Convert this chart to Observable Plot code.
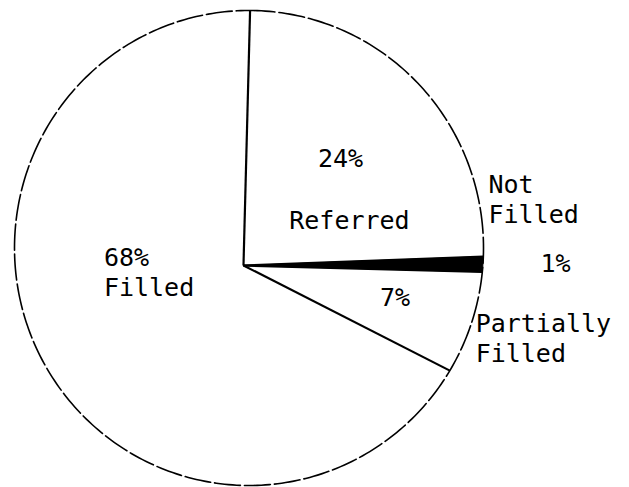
<!DOCTYPE html>
<html><head><meta charset="utf-8">
<script src="https://cdn.jsdelivr.net/npm/d3@7"></script>
<script src="https://cdn.jsdelivr.net/npm/@observablehq/plot@0.6"></script>
<style>html,body{margin:0;padding:0;background:#fff}</style>
</head><body><div id="chart"></div>
<script>
// Data
const categories = ["Referred", "Not Filled", "Partially Filled", "Filled"];
const percents = [24, 1, 7, 68];
const sliceFills = ["none", "black", "none", "none"];

// Geometry (layout)
const startDeg = 1.5;               // first radius, clockwise from north
const hub = [-0.0235, -0.0737];     // where the hand-drawn radii meet (unit-circle space)
const rad = d => d * Math.PI / 180;
function rimPoint(deg) {
  const dx = Math.sin(rad(deg)), dy = Math.cos(rad(deg));
  const b = hub[0] * dx + hub[1] * dy;
  const c = hub[0] ** 2 + hub[1] ** 2 - 1;
  const t = -b + Math.sqrt(b * b - c);
  return [hub[0] + t * dx, hub[1] + t * dy];
}
function anchor(deg, r) {
  return [hub[0] + r * Math.sin(rad(deg)), hub[1] + r * Math.cos(rad(deg))];
}
const total = d3.sum(percents);
let acc = startDeg;
const slices = categories.map((name, i) => {
  const a0 = acc, a1 = acc + percents[i] / total * 360;
  acc = a1;
  return {name, value: percents[i], fill: sliceFills[i], a0, a1, mid: (a0 + a1) / 2};
});

// outline circle
const circle = d3.range(0, 361, 1).map(a => ({x: Math.sin(rad(a)), y: Math.cos(rad(a))}));

// radii
const radii = slices.map(s => { const p = rimPoint(s.a0); return {x1: hub[0], y1: hub[1], x2: p[0], y2: p[1]}; });

// filled wedges
const wedges = [];
slices.filter(s => s.fill !== "none").forEach(s => {
  const p0 = rimPoint(s.a0), p1 = rimPoint(s.a1);
  const f0 = Math.atan2(p0[0], p0[1]), f1 = Math.atan2(p1[0], p1[1]);
  wedges.push({name: s.name, x: hub[0], y: hub[1]});
  const n = 12;
  for (let k = 0; k <= n; k++) {
    const f = f0 + (f1 - f0) * k / n;
    wedges.push({name: s.name, x: Math.sin(f), y: Math.cos(f)});
  }
  wedges.push({name: s.name, x: hub[0], y: hub[1]});
});

const bySlice = n => slices.filter(s => s.name === n);
function label(name, r, text, opts) {
  return Plot.text(bySlice(name), {
    x: d => anchor(d.mid, r)[0], y: d => anchor(d.mid, r)[1],
    text, lineAnchor: "bottom", fontSize: 25, lineHeight: 1.2, fill: "black", ...opts
  });
}

const chart = Plot.plot({
  width: 629, height: 487,
  marginLeft: 14, marginRight: 146, marginTop: 10, marginBottom: 2,
  x: {domain: [-1, 1], axis: null},
  y: {domain: [-1, 1], axis: null},
  style: {fontFamily: "'DejaVu Sans Mono', monospace", background: "white"},
  marks: [
    Plot.line(wedges, {x: "x", y: "y", z: "name", fill: "black", stroke: "black", strokeWidth: 1}),
    Plot.line(circle, {x: "x", y: "y", stroke: "black", strokeWidth: 1.6, strokeDasharray: "26,4"}),
    Plot.link(radii, {x1: "x1", y1: "y1", x2: "x2", y2: "y2", stroke: "black", strokeWidth: 2.2}),
    label("Referred", 0.6, d => d.value + "%", {dx: -2, dy: 3}),
    label("Referred", 0.6, d => d.name, {dx: 7, dy: 65}),
    label("Filled", 0.5, d => d.value + "%\n" + d.name, {textAnchor: "start", dx: -39, dy: -30}),
    label("Not Filled", 1.1, d => d.name.replace(" ", "\n"), {textAnchor: "start", dx: -13, dy: -41}),
    label("Not Filled", 1.1, d => d.value + "%", {textAnchor: "start", dx: 39, dy: 8}),
    label("Partially Filled", 1.1, d => d.name.replace(" ", "\n"), {textAnchor: "start", dx: -18, dy: 33}),
    label("Partially Filled", 0.6, d => d.value + "%", {textAnchor: "start", dx: 0, dy: 6})
  ]
});
document.getElementById("chart").appendChild(chart);
</script>
</body></html>
